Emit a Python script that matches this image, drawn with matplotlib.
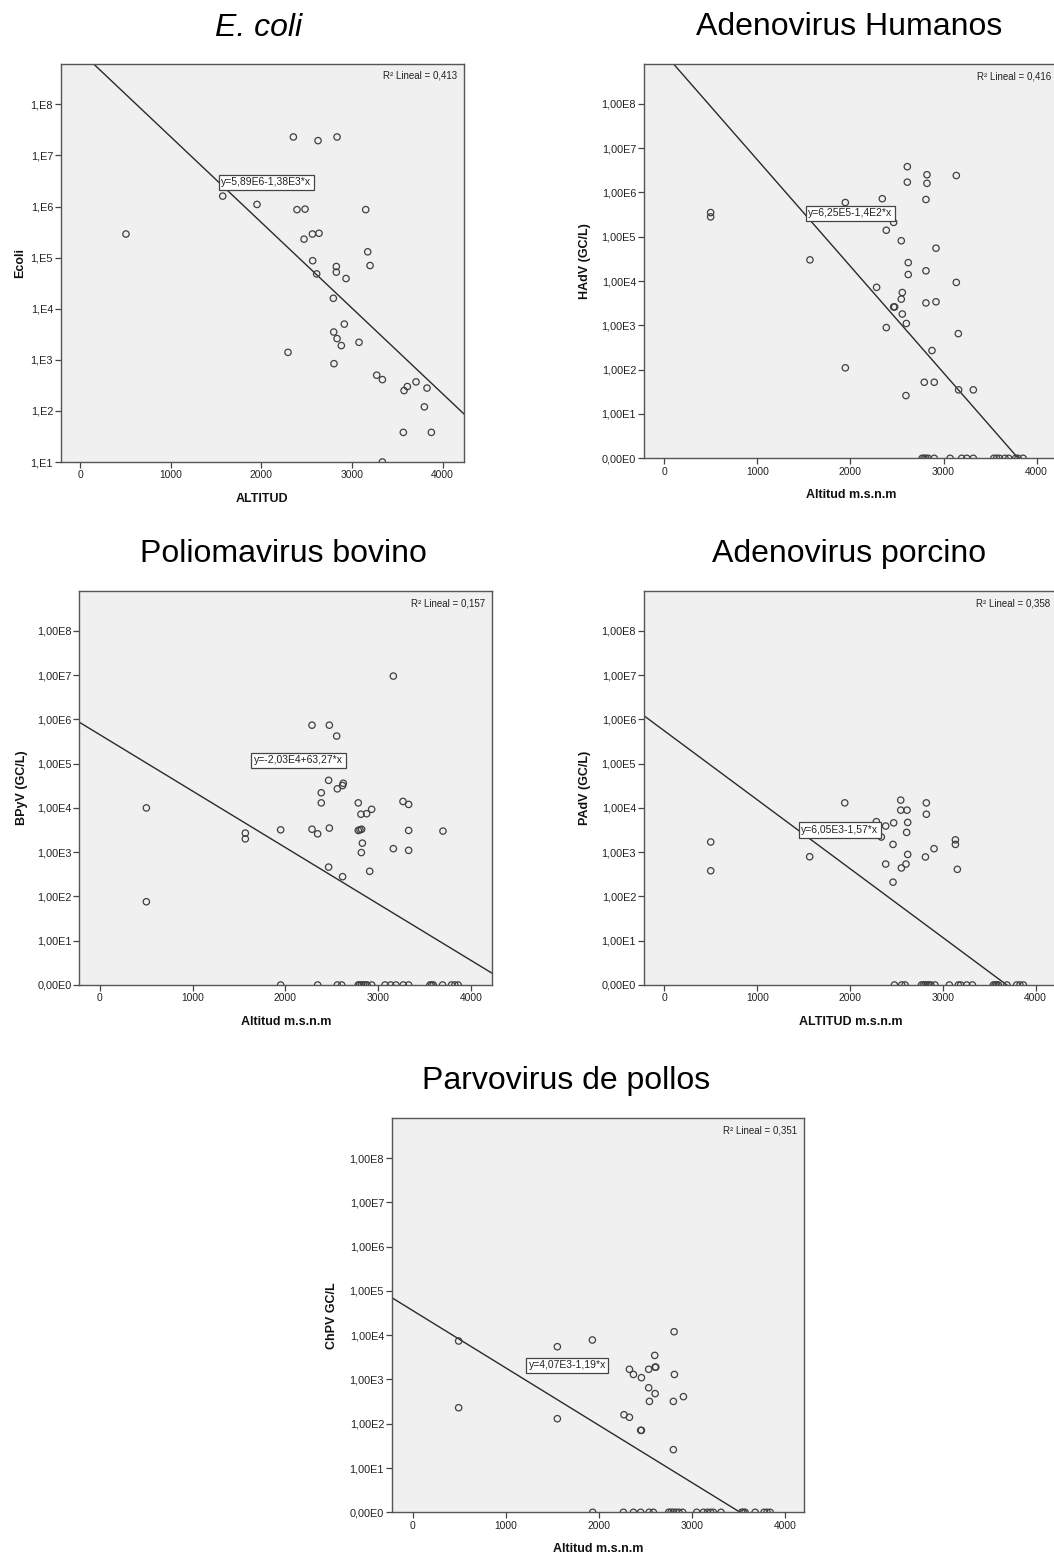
import numpy as np
import matplotlib
matplotlib.use("Agg")
import matplotlib.pyplot as plt

plt.rcParams['font.family'] = ['Liberation Sans', 'DejaVu Sans']

W, H = 1054, 1555

# ---- datos (altitud m.s.n.m, concentracion) ; 0 = no detectado ----
ecoli_alt = [507, 1574, 1952, 2353, 2625, 2835, 2393, 2482, 3151, 2563, 2636, 2471,
             3173, 3199, 2566, 2827, 2827, 2610, 2934, 2794, 2915, 2798, 2835, 2882,
             3077, 2294, 2801, 3272, 3335, 3574, 3610, 3706, 3827, 3798, 3566, 3875, 3335]
ecoli_val = [2.9e5, 1.6e6, 1.1e6, 2.3e7, 1.95e7, 2.3e7, 8.7e5, 8.9e5, 8.7e5, 2.9e5, 3.0e5, 2.3e5,
             1.3e5, 7.0e4, 8.7e4, 6.7e4, 5.2e4, 4.8e4, 3.9e4, 1.6e4, 5.0e3, 3.5e3, 2.6e3, 1.9e3,
             2.2e3, 1.4e3, 8.4e2, 5.0e2, 4.1e2, 2.5e2, 3.0e2, 3.7e2, 2.8e2, 1.2e2, 38, 38, 10]

hadv_alt = [498, 498, 1565, 1945, 1945, 2342, 2385, 2464, 2281, 2546, 2611, 2611, 2822, 2822,
            2811, 3137, 2919, 2621, 2621, 2811, 3137, 2557, 2546, 2464, 2475, 2557, 2600, 2385,
            2811, 2919, 3159, 2876, 2793, 2900, 2596, 3162, 3320,
            2770, 2790, 2810, 2835, 2900, 3070, 3195, 3250, 3320, 3540, 3570, 3600, 3660, 3700,
            3775, 3800, 3855]
hadv_val = [3.5e5, 2.8e5, 3.0e4, 5.9e5, 1.1e2, 7.2e5, 1.4e5, 2.1e5, 7.2e3, 8.1e4, 3.8e6, 1.7e6,
            2.5e6, 1.6e6, 6.9e5, 2.4e6, 5.5e4, 2.6e4, 1.4e4, 1.7e4, 9.3e3, 5.5e3, 3.9e3, 2.6e3,
            2.6e3, 1.8e3, 1.1e3, 8.9e2, 3.2e3, 3.4e3, 6.5e2, 2.7e2, 52, 52, 26, 35, 35,
            0, 0, 0, 0, 0, 0, 0, 0, 0, 0, 0, 0, 0, 0, 0, 0, 0]

bpyv_alt = [500, 500, 1567, 1567, 1948, 2286, 2473, 2552, 2465, 2386, 2386, 2559, 2616, 2623,
            2286, 2347, 2473, 2465, 2616, 2785, 2814, 2875, 2929, 2785, 2803, 2821, 2829, 2818,
            2908, 3163, 3267, 3328, 3328, 3163, 3328, 3698,
            1948, 2347, 2559, 2606, 2785, 2800, 2820, 2840, 2860, 2880, 2930, 3073, 3134, 3191,
            3270, 3328, 3558, 3576, 3594, 3694, 3790, 3826, 3862]
bpyv_val = [1.0e4, 76, 2.7e3, 2.0e3, 3.2e3, 7.4e5, 7.4e5, 4.2e5, 4.2e4, 2.2e4, 1.3e4, 2.7e4,
            3.2e4, 3.6e4, 3.3e3, 2.6e3, 3.5e3, 4.6e2, 2.8e2, 1.3e4, 7.2e3, 7.4e3, 9.3e3, 3.1e3,
            3.2e3, 3.3e3, 1.6e3, 9.8e2, 3.7e2, 9.5e6, 1.4e4, 1.2e4, 3.1e3, 1.2e3, 1.1e3, 3.0e3,
            0, 0, 0, 0, 0, 0, 0, 0, 0, 0, 0, 0, 0, 0, 0, 0, 0, 0, 0, 0, 0, 0, 0]

padv_alt = [499, 499, 1565, 1943, 2284, 2384, 2337, 2470, 2463, 2384, 2463, 2546, 2546, 2614,
            2621, 2610, 2621, 2603, 2553, 2822, 2822, 2812, 2905, 3135, 3135, 3156,
            2478, 2557, 2593, 2770, 2790, 2810, 2830, 2850, 2870, 2915, 3070, 3167, 3192, 3257,
            3318, 3545, 3563, 3580, 3598, 3690, 3795, 3830, 3867]
padv_val = [1.7e3, 3.8e2, 7.9e2, 1.3e4, 4.9e3, 3.9e3, 2.2e3, 4.6e3, 1.5e3, 5.4e2, 2.1e2, 1.5e4,
            8.9e3, 8.9e3, 4.7e3, 2.8e3, 8.9e2, 5.4e2, 4.4e2, 1.3e4, 7.2e3, 7.8e2, 1.2e3, 1.9e3,
            1.5e3, 4.1e2,
            0, 0, 0, 0, 0, 0, 0, 0, 0, 0, 0, 0, 0, 0, 0, 0, 0, 0, 0, 0, 0, 0, 0]

chpv_alt = [494, 494, 1554, 1554, 1930, 2270, 2328, 2328, 2371, 2449, 2457, 2457, 2535, 2543,
            2535, 2600, 2604, 2604, 2611, 2808, 2811, 2800, 2800, 2908,
            1934, 2263, 2371, 2449, 2539, 2585, 2750, 2775, 2800, 2830, 2860, 2900, 3051, 3123,
            3166, 3200, 3230, 3312, 3534, 3552, 3570, 3678, 3774, 3806, 3839]
chpv_val = [7.4e3, 2.3e2, 5.5e3, 1.3e2, 7.8e3, 1.6e2, 1.4e2, 1.7e3, 1.3e3, 71, 71, 1.1e3,
            6.5e2, 3.2e2, 1.7e3, 3.5e3, 4.8e2, 1.9e3, 1.9e3, 1.2e4, 1.3e3, 3.2e2, 26, 4.1e2,
            0, 0, 0, 0, 0, 0, 0, 0, 0, 0, 0, 0, 0, 0, 0, 0, 0, 0, 0, 0, 0, 0, 0, 0, 0]

# recta de ajuste tal como se ve (escala log10): intercepto, pendiente
fit_lines = [(9.042, -0.001677), (9.137, -0.002403), (5.652, -0.001274),
             (5.74, -0.001556), (4.558, -0.001296)]
equations = ["y=5,89E6-1,38E3*x", "y=6,25E5-1,4E2*x", "y=-2,03E4+63,27*x",
             "y=6,05E3-1,57*x", "y=4,07E3-1,19*x"]
eq_pos = [(1518, 6.476), (1511, 5.53), (1624, 5.08), (1436, 3.50), (1207, 3.32)]
r2_text = ["R² Lineal = 0,413", "R² Lineal = 0,416", "R² Lineal = 0,157",
           "R² Lineal = 0,358", "R² Lineal = 0,351"]
titles = ["E. coli", "Adenovirus Humanos", "Poliomavirus bovino",
          "Adenovirus porcino", "Parvovirus de pollos"]
ylabels = ["Ecoli", "HAdV (GC/L)", "BPyV (GC/L)", "PAdV (GC/L)", "ChPV GC/L"]
xlabels = ["ALTITUD", "Altitud m.s.n.m", "Altitud m.s.n.m", "ALTITUD m.s.n.m", "Altitud m.s.n.m"]

alts = [ecoli_alt, hadv_alt, bpyv_alt, padv_alt, chpv_alt]
vals = [ecoli_val, hadv_val, bpyv_val, padv_val, chpv_val]

# layout en pixeles: left, right, top, bottom
boxes = [(60.7, 464, 64, 462), (643.7, 1058.5, 64.3, 458.3), (79.3, 492.3, 591, 985),
         (643.7, 1057.5, 591, 985), (391.7, 804, 1118.3, 1512.3)]
xlims = [(-213, 4235), (-221, 4235), (-223, 4230), (-223, 4235), (-225, 4203)]
ylims = [(1, 8.79), (0, 8.89), (0, 8.9), (0, 8.9), (0, 8.9)]
ylab_off = [34.7, 53, 51.6, 53, 53.4]
title_xy = [(259, 36), (849.5, 35), (283, 562), (849, 562), (566, 1089)]

fig = plt.figure(figsize=(W / 100, H / 100), dpi=100)

for i in range(5):
    l, r, t, b = boxes[i]
    ax = fig.add_axes([l / W, 1 - b / H, (r - l) / W, (b - t) / H])
    ax.set_facecolor('#f0f0f0')
    for s in ax.spines.values():
        s.set_color('#555555')
        s.set_linewidth(1.0)

    x = np.array(alts[i], dtype=float)
    y = np.log10(np.maximum(np.array(vals[i], dtype=float), 1))
    ax.scatter(x, y, s=21, facecolors='none', edgecolors='#404040', linewidths=0.9, zorder=3)

    a, m = fit_lines[i]
    xx = np.array(xlims[i], dtype=float)
    ax.plot(xx, a + m * xx, color='#2a2a2a', lw=1.0, zorder=2)

    ax.set_xlim(*xlims[i])
    ax.set_ylim(*ylims[i])
    ax.set_xticks([0, 1000, 2000, 3000, 4000])
    if i == 0:
        yt = list(range(1, 9))
        ax.set_yticks(yt)
        ax.set_yticklabels(["1,E%d" % k for k in yt])
    else:
        yt = list(range(0, 9))
        ax.set_yticks(yt)
        ax.set_yticklabels(["%d,00E%d" % (0 if k == 0 else 1, k) for k in yt])
    ax.tick_params(axis='y', length=4, width=0.9, color='#444444', pad=1.5,
                   labelsize=7.8, labelcolor='#222222')
    ax.tick_params(axis='x', length=4, width=0.9, color='#444444', pad=2,
                   labelsize=7.4, labelcolor='#222222')

    ex, ey = eq_pos[i]
    ax.annotate(equations[i], xy=(ex, ey), xytext=(2.5, 0), textcoords='offset points',
                ha='left', va='center', fontsize=7.5, color='#222222', zorder=5,
                bbox=dict(boxstyle='square,pad=0.25', fc='white', ec='#444444', lw=0.9))

    # R2 en pixeles de figura
    fig.text((r - 7) / W, 1 - (t + 12) / H, r2_text[i], fontsize=7, color='#222222',
             ha='right', va='center')

    axw = r - l
    axh = b - t
    ax.set_ylabel(ylabels[i], fontsize=9, fontweight='bold', color='#111111')
    ax.yaxis.set_label_coords(-ylab_off[i] / axw, 0.5)
    ax.set_xlabel(xlabels[i], fontsize=9, fontweight='bold', color='#111111')
    ax.xaxis.set_label_coords(0.5, -31 / axh)

    tx, ty = title_xy[i]
    fig.text(tx / W, 1 - ty / H, titles[i], fontsize=23, ha='center', va='baseline',
             style='italic' if i == 0 else 'normal', color='black')

fig.savefig('out.png', dpi=100, facecolor='white')
